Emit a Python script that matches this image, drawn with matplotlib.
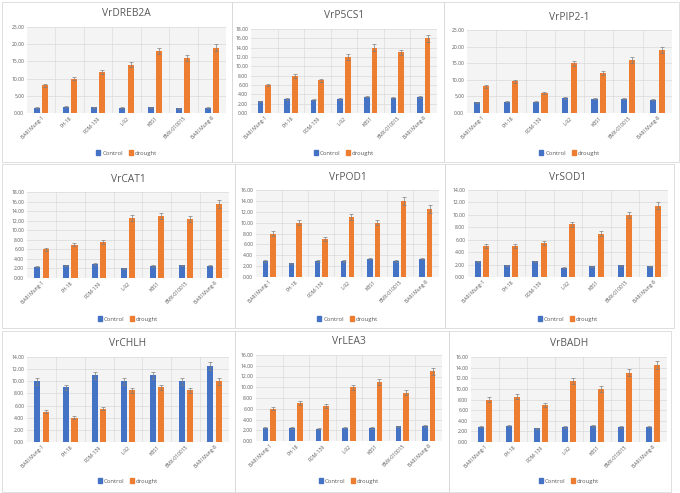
import matplotlib.pyplot as plt
import numpy as np
from matplotlib.patches import Rectangle, Patch

plt.rcParams['font.family'] = ['Open Sans', 'DejaVu Sans']

cultivars = ['BARI Mung-1', 'FH-18', 'PDM-139', 'L-92', 'KBS1', 'BMX-010015', 'BARI Mung-8']

# per gene: control, drought and their error bars
dreb2a_ctrl = [1.5, 1.8, 1.6, 1.5, 1.7, 1.4, 1.5]
dreb2a_drt = [8.0, 10.0, 12.0, 14.0, 18.0, 16.0, 19.0]
dreb2a_ctrl_err = [0.1, 0.15, 0.1, 0.1, 0.15, 0.1, 0.1]
dreb2a_drt_err = [0.4, 0.5, 0.6, 0.7, 0.9, 0.8, 0.95]

p5cs1_ctrl = [2.5, 3.0, 2.8, 3.0, 3.5, 3.3, 3.4]
p5cs1_drt = [6.0, 8.0, 7.0, 12.0, 14.0, 13.0, 16.0]
p5cs1_ctrl_err = [0.12, 0.15, 0.12, 0.15, 0.15, 0.15, 0.15]
p5cs1_drt_err = [0.3, 0.4, 0.35, 0.6, 0.7, 0.6, 0.8]

pip21_ctrl = [3.3, 3.4, 3.4, 4.5, 4.3, 4.3, 4.0]
pip21_drt = [8.0, 9.5, 6.0, 15.0, 12.0, 16.0, 19.0]
pip21_ctrl_err = [0.15, 0.15, 0.15, 0.2, 0.2, 0.2, 0.2]
pip21_drt_err = [0.4, 0.5, 0.3, 0.75, 0.6, 0.8, 0.95]

cat1_ctrl = [2.4, 2.7, 2.9, 2.0, 2.5, 2.7, 2.6]
cat1_drt = [6.0, 7.0, 7.5, 12.5, 13.0, 12.3, 15.5]
cat1_ctrl_err = [0.12, 0.12, 0.15, 0.1, 0.12, 0.12, 0.12]
cat1_drt_err = [0.3, 0.35, 0.35, 0.65, 0.65, 0.6, 0.75]

pod1_ctrl = [2.9, 2.5, 3.0, 2.9, 3.4, 3.0, 3.4]
pod1_drt = [8.0, 10.0, 7.0, 11.0, 10.0, 14.0, 12.5]
pod1_ctrl_err = [0.15, 0.12, 0.15, 0.15, 0.18, 0.15, 0.18]
pod1_drt_err = [0.4, 0.5, 0.35, 0.55, 0.5, 0.7, 0.65]

sod1_ctrl = [2.5, 1.9, 2.5, 1.5, 1.7, 1.9, 1.7]
sod1_drt = [5.0, 5.0, 5.5, 8.5, 7.0, 10.0, 11.5]
sod1_ctrl_err = [0.12, 0.1, 0.15, 0.1, 0.1, 0.1, 0.1]
sod1_drt_err = [0.3, 0.3, 0.3, 0.4, 0.4, 0.5, 0.6]

chlh_ctrl = [10.0, 9.0, 11.0, 10.0, 11.0, 10.0, 12.5]
chlh_drt = [5.0, 4.0, 5.5, 8.5, 9.0, 8.5, 10.0]
chlh_ctrl_err = [0.6, 0.45, 0.55, 0.55, 0.6, 0.55, 0.6]
chlh_drt_err = [0.3, 0.25, 0.3, 0.45, 0.45, 0.45, 0.55]

lea3_ctrl = [2.5, 2.4, 2.3, 2.5, 2.4, 2.7, 2.8]
lea3_drt = [6.0, 7.0, 6.5, 10.0, 11.0, 9.0, 13.0]
lea3_ctrl_err = [0.12, 0.12, 0.12, 0.12, 0.12, 0.12, 0.12]
lea3_drt_err = [0.3, 0.35, 0.35, 0.5, 0.55, 0.45, 0.65]

badh_ctrl = [2.9, 3.1, 2.6, 2.8, 3.0, 2.8, 2.9]
badh_drt = [8.0, 8.5, 7.0, 11.5, 10.0, 13.0, 14.5]
badh_ctrl_err = [0.15, 0.12, 0.12, 0.15, 0.15, 0.15, 0.15]
badh_drt_err = [0.4, 0.45, 0.35, 0.6, 0.55, 0.65, 0.75]

# title, data, y max, y step, panel frame (px), plot area (px), legend y (px)
panels = [
    ('VrDREB2A', dreb2a_ctrl, dreb2a_drt, dreb2a_ctrl_err, dreb2a_drt_err, 25, 5,
     (2, 2, 232, 162), (27, 27, 226, 113), 153),
    ('VrP5CS1', p5cs1_ctrl, p5cs1_drt, p5cs1_ctrl_err, p5cs1_drt_err, 18, 2,
     (232, 2, 444, 162), (251, 29, 437, 113), 153),
    ('VrPIP2-1', pip21_ctrl, pip21_drt, pip21_ctrl_err, pip21_drt_err, 25, 5,
     (444, 2, 679, 162), (467, 30, 672, 113), 153),
    ('VrCAT1', cat1_ctrl, cat1_drt, cat1_ctrl_err, cat1_drt_err, 18, 2,
     (2, 164, 235, 328), (27, 192, 229, 278), 319),
    ('VrPOD1', pod1_ctrl, pod1_drt, pod1_ctrl_err, pod1_drt_err, 16, 2,
     (235, 164, 445, 328), (256, 190, 439, 277), 319),
    ('VrSOD1', sod1_ctrl, sod1_drt, sod1_ctrl_err, sod1_drt_err, 14, 2,
     (445, 164, 674, 328), (468, 190, 668, 277), 319),
    ('VrCHLH', chlh_ctrl, chlh_drt, chlh_ctrl_err, chlh_drt_err, 14, 2,
     (2, 331, 235, 492), (27, 357, 229, 442), 481),
    ('VrLEA3', lea3_ctrl, lea3_drt, lea3_ctrl_err, lea3_drt_err, 16, 2,
     (235, 331, 449, 492), (256, 355, 442, 441), 481),
    ('VrBADH', badh_ctrl, badh_drt, badh_ctrl_err, badh_drt_err, 16, 2,
     (449, 331, 671, 492), (471, 357, 667, 442), 481),
]

W, H = 680, 493
blue = '#4472C4'
orange = '#ED7D31'

fig = plt.figure(figsize=(6.8, 4.93), dpi=100)

for (title, ctrl, drt, ctrl_err, drt_err, ymax, ystep, box, plot, leg_y) in panels:
    # panel frame
    bx0, by0, bx1, by1 = box
    fig.patches.append(Rectangle((bx0 / W, 1 - by1 / H), (bx1 - bx0) / W, (by1 - by0) / H,
                                 transform=fig.transFigure, fill=False,
                                 edgecolor='#d9d9d9', linewidth=0.6))
    px0, py0, px1, py1 = plot
    ax = fig.add_axes([px0 / W, 1 - py1 / H, (px1 - px0) / W, (py1 - py0) / H])
    ax.set_facecolor('#f4f4f4')
    x = np.arange(len(cultivars))
    ek = dict(ecolor='#7f7f7f', elinewidth=0.5, capsize=1.2, capthick=0.5)
    ax.bar(x - 0.145, ctrl, 0.21, yerr=ctrl_err, color=blue, error_kw=ek, zorder=3)
    ax.bar(x + 0.145, drt, 0.21, yerr=drt_err, color=orange, error_kw=ek, zorder=3)
    ax.set_xlim(-0.5, len(cultivars) - 0.5)
    ax.set_ylim(0, ymax)
    yt = np.arange(0, ymax + 0.01, ystep)
    ax.set_yticks(yt)
    ax.set_yticklabels(['%.2f' % v for v in yt], fontsize=3.6, color='#595959')
    ax.set_xticks(x)
    ax.set_xticklabels(cultivars, rotation=45, ha='right', rotation_mode='anchor',
                       fontsize=3.6, color='#595959')
    ax.set_xticks(np.arange(0.5, len(cultivars) - 0.5), minor=True)
    ax.tick_params(axis='both', which='both', length=0, pad=2)
    ax.grid(axis='y', which='major', color='#d9d9d9', linewidth=0.5, zorder=0)
    ax.grid(axis='x', which='minor', color='#dcdcdc', linewidth=0.5, zorder=0)
    for s in ax.spines.values():
        s.set_visible(False)
    ax.axhline(0, color='#d0d0d0', linewidth=0.6, zorder=4)
    # title and legend
    cx = (px0 + px1) / 2 / W
    fig.text(cx, 1 - (py0 - 13) / H, title, ha='center', va='center',
             fontsize=7.4, color='#595959')
    handles = [Patch(color=blue, label='Control'), Patch(color=orange, label='drought')]
    fig.legend(handles=handles, loc='center', bbox_to_anchor=(cx, 1 - leg_y / H),
               ncol=2, frameon=False, fontsize=4.2, handlelength=0.7, handleheight=0.7,
               columnspacing=1.0, handletextpad=0.3, labelcolor='#595959')

fig.savefig('out.png', dpi=100)
